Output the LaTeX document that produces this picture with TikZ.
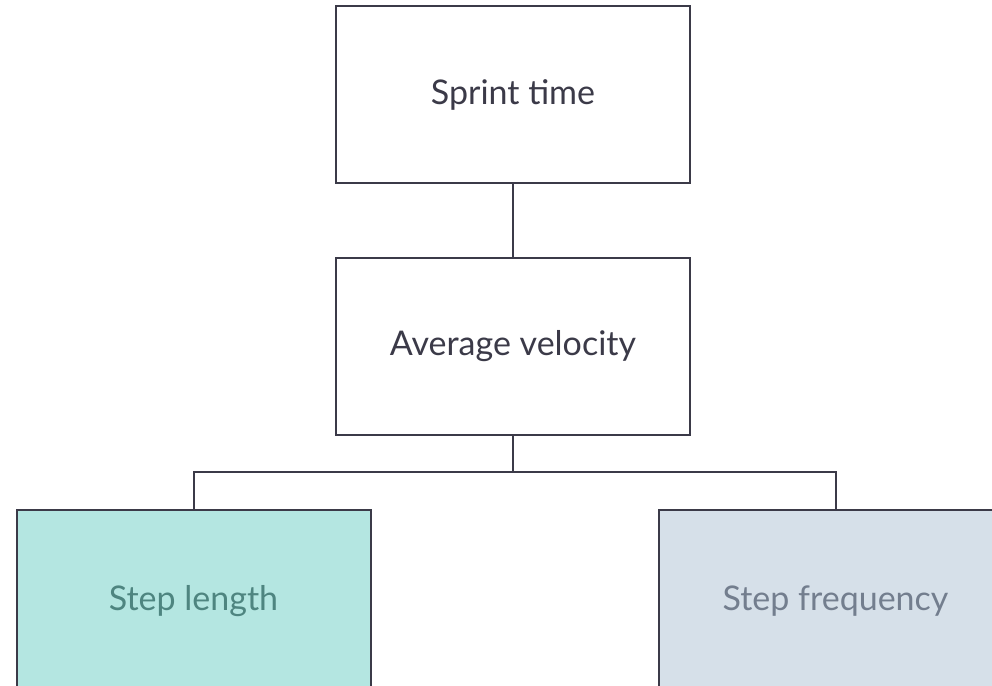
\documentclass[tikz,border=0pt]{standalone}
\usepackage{fontspec}
\setmainfont{Lato}
\definecolor{ink}{HTML}{3B3A48}
\definecolor{tealfill}{HTML}{B4E6E1}
\definecolor{tealtext}{HTML}{4E8580}
\definecolor{bluefill}{HTML}{D6E0E9}
\definecolor{bluetext}{HTML}{737E8E}
\begin{document}
\begin{tikzpicture}[x=1pt,y=-1pt,
  box/.style={draw=ink,line width=2pt,minimum width=354pt,minimum height=177pt,inner sep=0pt,font=\fontsize{34}{40}\selectfont,text=ink},
  leaf/.style={box,minimum height=182pt},
  link/.style={draw=ink,line width=2pt}]
\useasboundingbox (0,0) rectangle (992,685);
\node[box] (sprint) at (513,94.5) {\raisebox{-2pt}{Sprint time}};
\node[box] (avg) at (513,346) {\raisebox{-2pt}{Average velocity}};
\node[leaf,fill=tealfill,text=tealtext] (len) at (193.5,601) {\raisebox{2pt}{Step length}};
\node[leaf,fill=bluefill,text=bluetext] (freq) at (835.5,601) {\raisebox{2pt}{Step frequency}};
\coordinate (split) at (513,472);
\draw[link] (sprint.south) -- (avg.north);
\draw[link] (avg.south) -- (split);
\draw[link] (split) -| (len.north);
\draw[link] (split) -| (freq.north);
\end{tikzpicture}
\end{document}
